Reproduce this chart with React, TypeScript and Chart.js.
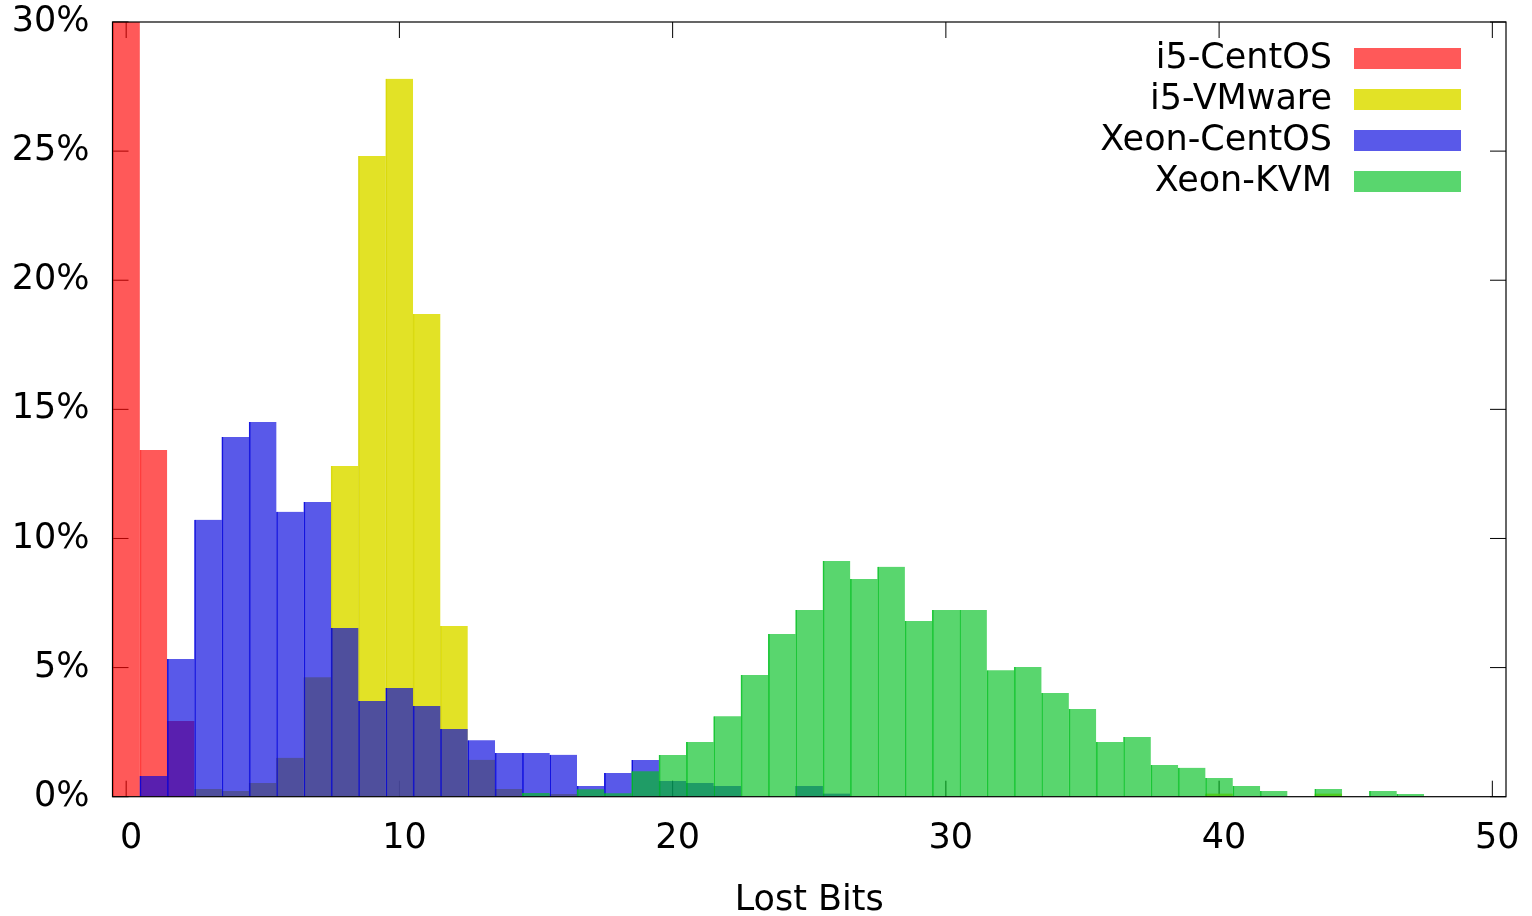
import React, { useEffect, useRef } from "react";
import { Chart, registerables } from "chart.js";

Chart.register(...registerables);

// Lost bits (x bins)
const lostBits = [
  0, 1, 2, 3, 4, 5, 6, 7, 8, 9, 10, 11, 12, 13, 14, 15, 16, 17, 18, 19, 20, 21, 22, 23,
  24, 25, 26, 27, 28, 29, 30, 31, 32, 33, 34, 35, 36, 37, 38, 39, 40, 41, 42, 43, 44, 45, 46, 47,
];

const seriesLabels = ["i5-CentOS", "i5-VMware", "Xeon-CentOS", "Xeon-KVM"];

// percentages per bin
const i5CentOS = [
  83.6, 13.43, 2.93, null, null, null, null, null, null, null, null, null, null, null, null, null,
  null, null, null, null, null, null, null, null, null, null, null, null, null, null, null, null,
  null, null, null, null, null, null, null, null, null, null, null, null, null, null, null, null,
];
const i5VMware = [
  null, null, null, 0.3, 0.22, 0.53, 1.51, 4.63, 12.81, 24.81, 27.8, 18.69, 6.61, 1.43, 0.3, null,
  0.1, null, null, null, null, null, null, null, null, null, null, null, null, null, null, null,
  null, null, null, null, null, null, null, null, 0.12, null, null, null, 0.12, null, null, null,
];
const xeonCentOS = [
  null, 0.8, 5.33, 10.72, 13.93, 14.51, 11.03, 11.41, 6.53, 3.71, 4.21, 3.51, 2.62, 2.19, 1.69, 1.69,
  1.62, 0.41, 0.92, 1.42, 0.61, 0.53, 0.41, null, null, 0.41, 0.12, null, null, null, null, null,
  null, null, null, null, null, null, null, null, null, null, null, null, null, null, null, null,
];
const xeonKVM = [
  null, null, null, null, null, null, null, null, null, null, null, null, null, null, null, 0.14,
  null, 0.29, 0.13, 0.99, 1.61, 2.12, 3.12, 4.71, 6.3, 7.23, 9.13, 8.43, 8.9, 6.8, 7.23, 7.23,
  4.9, 5.02, 4.02, 3.4, 2.12, 2.31, 1.23, 1.12, 0.72, 0.41, 0.22, null, 0.3, null, 0.22, 0.1,
];

const xTickValues = [0, 10, 20, 30, 40, 50];
const yTickValues = [0, 5, 10, 15, 20, 25, 30];

const fillColors = [
  "rgba(255,0,0,0.65)",
  "rgba(221,221,0,0.85)",
  "rgba(0,0,221,0.65)",
  "rgba(0,192,32,0.65)",
];
const edgeColors = [
  "rgba(255,0,0,0.65)",
  "rgba(212,212,0,0.9)",
  "rgba(0,0,221,0.88)",
  "rgba(0,192,32,0.85)",
];

const FONT = '"DejaVu Sans", "Liberation Sans", sans-serif';
const FS = 35;

const framePlugin = {
  id: "gnuplotFrame",
  beforeDatasetsDraw(chart: any) {
    const { ctx, chartArea, scales } = chart;
    const { left, right, top, bottom } = chartArea;
    const L = 16;
    ctx.save();
    ctx.strokeStyle = "#000";
    ctx.lineWidth = 1;
    ctx.beginPath();
    for (const v of xTickValues) {
      const px = scales.x.getPixelForValue(v);
      ctx.moveTo(px, bottom);
      ctx.lineTo(px, bottom - L);
      ctx.moveTo(px, top);
      ctx.lineTo(px, top + L);
    }
    for (const v of yTickValues) {
      const py = scales.y.getPixelForValue(v);
      ctx.moveTo(left, py);
      ctx.lineTo(left + L, py);
      ctx.moveTo(right, py);
      ctx.lineTo(right - L, py);
    }
    ctx.stroke();
    ctx.restore();
  },
  afterDatasetsDraw(chart: any) {
    const { ctx, chartArea } = chart;
    const { left, right, top, bottom } = chartArea;
    ctx.save();
    ctx.strokeStyle = "#000";
    ctx.lineWidth = 1.2;
    ctx.strokeRect(left, top, right - left, bottom - top);
    ctx.restore();
  },
  afterDraw(chart: any) {
    const { ctx, chartArea } = chart;
    const { right, top } = chartArea;
    ctx.save();
    ctx.font = `${FS}px ${FONT}`;
    ctx.textAlign = "right";
    ctx.textBaseline = "middle";
    chart.data.datasets.forEach((ds: any, i: number) => {
      const cy = top + 36.5 + i * 41;
      ctx.fillStyle = "#000";
      ctx.fillText(ds.label, right - 174, cy);
      ctx.fillStyle = "#fff";
      ctx.fillRect(right - 152, cy - 10.5, 107, 21);
      ctx.fillStyle = ds.backgroundColor;
      ctx.fillRect(right - 152, cy - 10.5, 107, 21);
    });
    ctx.restore();
  },
};

function toPoints(values: (number | null)[]) {
  return lostBits.map((b, i) => ({ x: b, y: values[i] }));
}

function zeroPadding(scale: any) {
  scale.paddingTop = 0;
  scale.paddingBottom = 0;
  scale.paddingLeft = 0;
  scale.paddingRight = 0;
}

export default function App() {
  const canvasRef = useRef<HTMLCanvasElement | null>(null);

  useEffect(() => {
    const canvas = canvasRef.current;
    if (!canvas) return;
    Chart.defaults.font.family = FONT;
    Chart.defaults.color = "#000";
    const seriesValues = [i5CentOS, i5VMware, xeonCentOS, xeonKVM];
    const orders = [3, 2, 1, 0];
    const chart = new Chart(canvas, {
      type: "bar",
      data: {
        datasets: seriesValues.map((vals, i) => ({
          label: seriesLabels[i],
          data: toPoints(vals),
          backgroundColor: fillColors[i],
          borderColor: edgeColors[i],
          borderWidth: { left: 1, right: 0, top: 0, bottom: 0 },
          borderSkipped: false,
          order: orders[i],
          grouped: false,
          barPercentage: 1,
          categoryPercentage: 1,
        })) as any,
      },
      options: {
        animation: false,
        responsive: true,
        maintainAspectRatio: false,
        layout: { padding: { top: 22, right: 26, left: 0, bottom: 0 } },
        plugins: {
          legend: { display: false },
          tooltip: { enabled: false },
        },
        scales: {
          x: {
            type: "linear",
            min: -0.5,
            max: 50.5,
            offset: false,
            grid: { display: false, drawTicks: false, offset: false },
            border: { display: false },
            ticks: {
              stepSize: 10,
              includeBounds: false,
              labelOffset: 5,
              padding: 21,
              maxRotation: 0,
              autoSkip: false,
              font: { size: FS, family: FONT },
              color: "#000",
            },
            title: {
              display: true,
              text: "Lost Bits",
              font: { size: FS, family: FONT, lineHeight: 1 },
              padding: { top: 0, bottom: -2 },
              color: "#000",
            },
            afterFit(scale: any) {
              scale.height = 119.3;
              zeroPadding(scale);
            },
          },
          y: {
            type: "linear",
            min: 0,
            max: 30,
            grid: { display: false, drawTicks: false },
            border: { display: false },
            ticks: {
              stepSize: 5,
              padding: 23,
              font: { size: FS, family: FONT },
              color: "#000",
              callback: (v: any) => `${v}%`,
            },
            afterFit(scale: any) {
              scale.width = 112.5;
              zeroPadding(scale);
            },
          },
        },
      },
      plugins: [framePlugin],
    });
    return () => chart.destroy();
  }, []);

  return (
    <div style={{ position: "absolute", left: 0, top: 0, width: 1532, height: 916, background: "#fff" }}>
      <canvas ref={canvasRef} />
    </div>
  );
}
